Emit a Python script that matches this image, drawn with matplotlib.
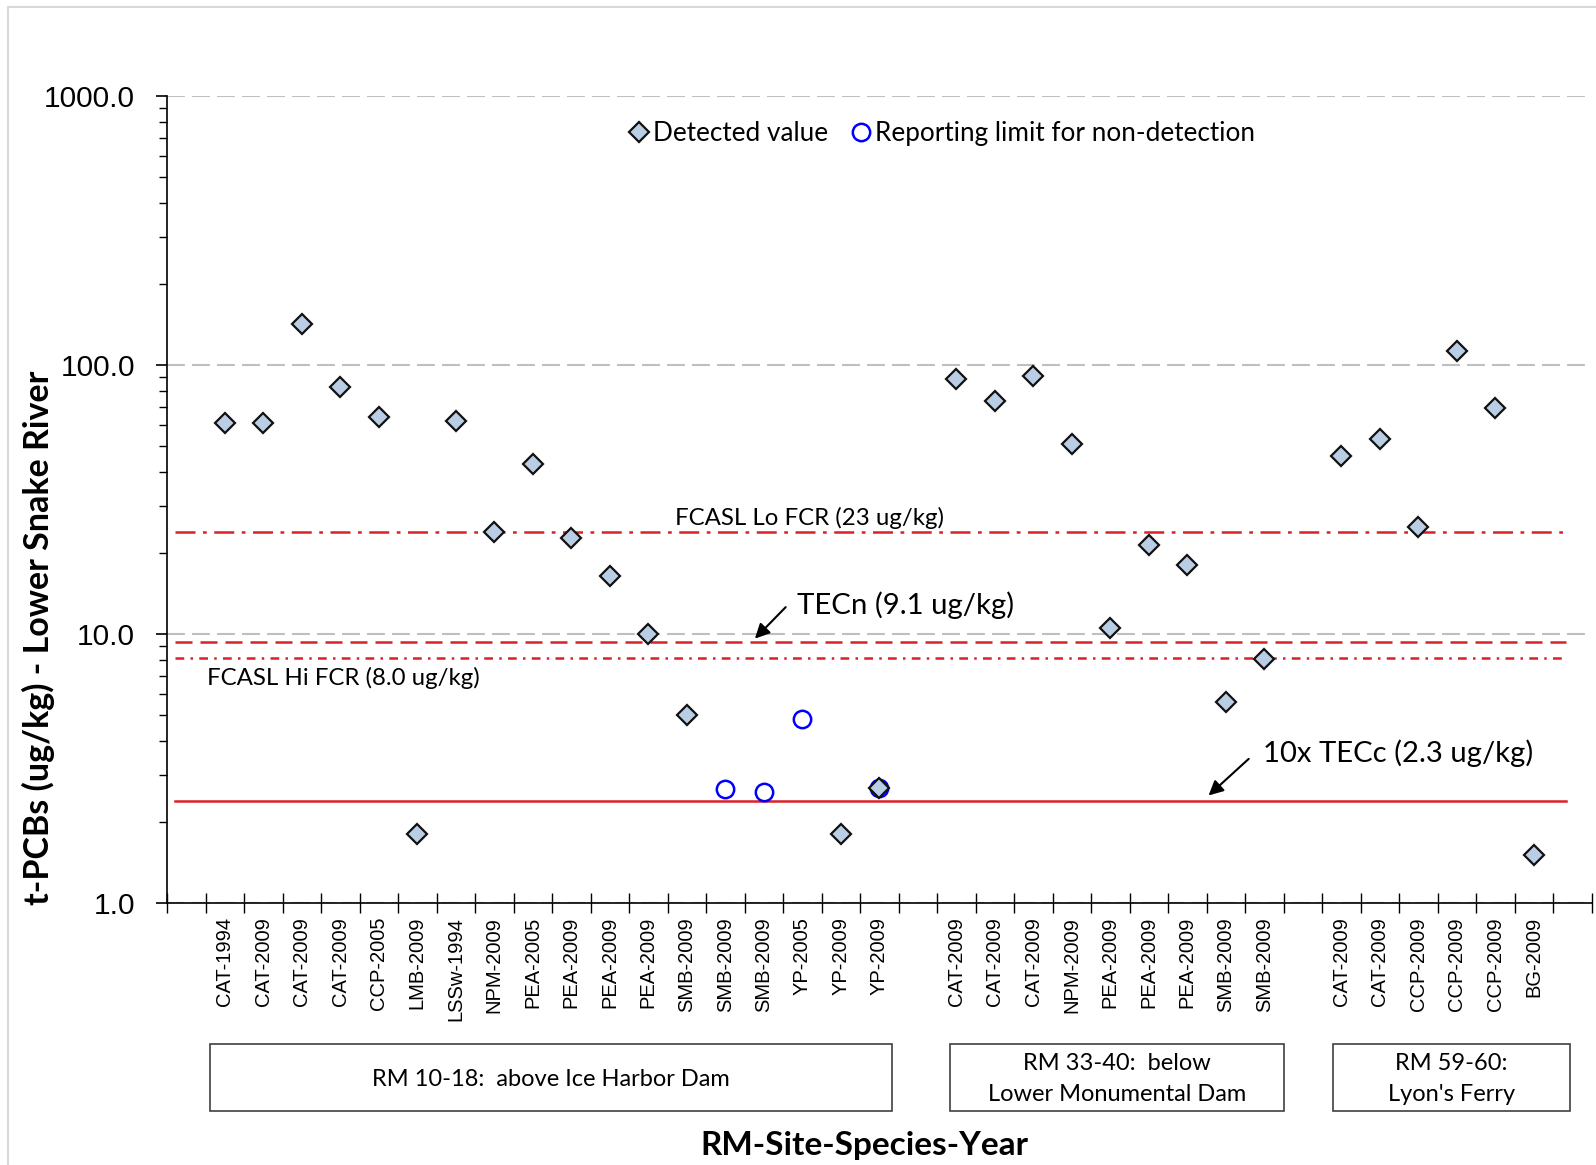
import numpy as np
import matplotlib
matplotlib.use("Agg")
import matplotlib.pyplot as plt
from matplotlib.lines import Line2D
from matplotlib.patches import Rectangle

# ---------------- data ----------------
categories = ['',
              'CAT-1994', 'CAT-2009', 'CAT-2009', 'CAT-2009', 'CCP-2005', 'LMB-2009',
              'LSSw-1994', 'NPM-2009', 'PEA-2005', 'PEA-2009', 'PEA-2009', 'PEA-2009',
              'SMB-2009', 'SMB-2009', 'SMB-2009', 'YP-2005', 'YP-2009', 'YP-2009',
              '',
              'CAT-2009', 'CAT-2009', 'CAT-2009', 'NPM-2009', 'PEA-2009', 'PEA-2009',
              'PEA-2009', 'SMB-2009', 'SMB-2009',
              '',
              'CAT-2009', 'CAT-2009', 'CCP-2009', 'CCP-2009', 'CCP-2009', 'BG-2009',
              '']
nan = np.nan
detected = [nan,
            61, 61, 142, 83, 64, 1.81,
            62, 24, 43, 22.7, 16.4, 10.0,
            5.0, nan, nan, nan, 1.81, 2.68,
            nan,
            88.5, 73.7, 91, 51, 10.5, 21.4,
            18.1, 5.58, 8.1,
            nan,
            46, 53, 25, 113, 69, 1.51,
            nan]
nondetect = [nan,
             nan, nan, nan, nan, nan, nan,
             nan, nan, nan, nan, nan, nan,
             nan, 2.66, 2.59, 4.85, nan, 2.68,
             nan,
             nan, nan, nan, nan, nan, nan,
             nan, nan, nan,
             nan,
             nan, nan, nan, nan, nan, nan,
             nan]
group_names = ['RM 10-18:  above Ice Harbor Dam',
               'RM 33-40:  below\nLower Monumental Dam',
               'RM 59-60:\nLyon\'s Ferry']
ref_values = {'lo_fcr': 24.0, 'tecn': 9.3, 'hi_fcr': 8.15, 'tecc': 2.4}
ref_labels = {'lo_fcr': 'FCASL Lo FCR (23 ug/kg)', 'tecn': 'TECn (9.1 ug/kg)',
              'hi_fcr': 'FCASL Hi FCR (8.0 ug/kg)', 'tecc': '10x TECc (2.3 ug/kg)'}
yticks = [1, 10, 100, 1000]
ytick_labels = ['1.0', '10.0', '100.0', '1000.0']

# ---------------- figure ----------------
W, H = 1596, 1165
fig = plt.figure(figsize=(W / 100, H / 100), dpi=100)
def fx(px): return px / W
def fy(py): return 1 - py / H

ax = fig.add_axes([fx(167), fy(903), fx(1591.5) - fx(167), fy(96) - fy(903)])
x = np.arange(len(categories))
ax.set_yscale('log')
ax.set_ylim(1, 1000)
ax.set_xlim(-0.5, len(categories) - 0.5)

CAL = 'Lato'
ARI = 'Liberation Sans'
RED = '#D92128'

# gridlines
ax.yaxis.grid(True, which='major', color='#BFBFBF', linestyle=(0, (8.6, 3.4)), lw=1.5, zorder=0)
ax.set_axisbelow(True)

# reference lines
xr = [-0.3, 35.85]
ax.plot(xr, [ref_values['lo_fcr']] * 2, color=RED, lw=1.8, linestyle=(0, (8, 3, 1.5, 3)), zorder=2)
ax.plot(xr, [ref_values['tecn']] * 2, color=RED, lw=1.8, linestyle=(0, (6.8, 3.2)), zorder=2)
ax.plot(xr, [ref_values['hi_fcr']] * 2, color=RED, lw=1.8, linestyle=(0, (3.5, 2.5, 1, 2.5)), zorder=2)
ax.plot(xr, [ref_values['tecc']] * 2, color=RED, lw=1.8, linestyle='-', zorder=2)

# points
ax.plot(x, nondetect, linestyle='none', marker='o', ms=12.5, mfc='none', mec='#0000FF',
        mew=1.8, zorder=3, label='Reporting limit for non-detection')
ax.plot(x, detected, linestyle='none', marker='D', ms=10, mfc='#B9CDE5', mec='#111111',
        mew=1.6, zorder=4, label='Detected value')

# spines
for s in ['top', 'right']:
    ax.spines[s].set_visible(False)
for s in ['left', 'bottom']:
    ax.spines[s].set_color('black')
    ax.spines[s].set_linewidth(1.2)

# y ticks
ax.set_yticks(yticks)
ax.set_yticklabels(ytick_labels, fontfamily=ARI, fontsize=21.5)
ax.yaxis.set_minor_locator(matplotlib.ticker.LogLocator(base=10, subs=np.arange(2, 10)))
ax.yaxis.set_minor_formatter(matplotlib.ticker.NullFormatter())
ax.tick_params(axis='y', which='major', direction='out', length=8, width=1.2, pad=15)
ax.tick_params(axis='y', which='minor', direction='out', length=6, width=1.0)

# x ticks: major at boundaries, labels at centers (minor)
ax.set_xticks(np.arange(-0.5, len(categories), 1.0))
ax.set_xticklabels([])
ax.set_xticks(x, minor=True)
ax.set_xticklabels(categories, minor=True, rotation=90, fontfamily=ARI, fontsize=14.5)
ax.tick_params(axis='x', which='major', direction='inout', length=14, width=1.0)
ax.tick_params(axis='x', which='minor', length=0, pad=10)

# legend
h1 = Line2D([], [], linestyle='none', marker='D', ms=10, mfc='#B9CDE5', mec='#111111', mew=1.6)
h2 = Line2D([], [], linestyle='none', marker='o', ms=12.5, mfc='none', mec='#0000FF', mew=1.8)
fig.legend([h1, h2], ['Detected value', 'Reporting limit for non-detection'],
           loc='center', bbox_to_anchor=(fx(942), fy(134)), ncol=2, frameon=False,
           handlelength=0.8, handletextpad=0.15, columnspacing=0.85,
           prop={'family': CAL, 'size': 18.8})

# annotations
ax.text(16.2, 27, ref_labels['lo_fcr'], ha='center', va='center', fontfamily=CAL, fontsize=17.3)
ax.text(15.86, 12.8, ref_labels['tecn'], ha='left', va='center', fontfamily=CAL, fontsize=21.2)
ax.annotate('', xy=(14.72, 9.45), xytext=(15.62, 12.8),
            arrowprops=dict(arrowstyle='-|>', color='black', lw=1.5, mutation_scale=22))
ax.text(0.53, 6.85, ref_labels['hi_fcr'], ha='left', va='center', fontfamily=CAL, fontsize=17.3)
ax.text(27.96, 3.61, ref_labels['tecc'], ha='left', va='center', fontfamily=CAL, fontsize=21.1)
ax.annotate('', xy=(26.5, 2.47), xytext=(27.65, 3.49),
            arrowprops=dict(arrowstyle='-|>', color='black', lw=1.5, mutation_scale=22))

# group boxes
boxes = [(210, 892), (950, 1284), (1333, 1570)]
for (x0, x1), name in zip(boxes, group_names):
    r = Rectangle((fx(x0), fy(1111)), fx(x1) - fx(x0), fy(1044) - fy(1111),
                  transform=fig.transFigure, fill=False, edgecolor='#404040', lw=1.2)
    fig.add_artist(r)
    fig.text(fx((x0 + x1) / 2), fy(1079), name, ha='center', va='center',
             fontfamily=CAL, fontsize=17, linespacing=1.55)

# axis titles
fig.text(fx(864), fy(1145), 'RM-Site-Species-Year', ha='center', va='center',
         fontfamily=CAL, fontweight='bold', fontsize=24)
fig.text(fx(38), fy(638), 't-PCBs (ug/kg) - Lower Snake River', ha='center', va='center',
         rotation=90, fontfamily=CAL, fontweight='bold', fontsize=24.5)

# outer frame
fig.add_artist(Line2D([fx(8), fx(8)], [0, fy(7)], color='#D9D9D9', lw=1.5, transform=fig.transFigure))
fig.add_artist(Line2D([fx(8), 1], [fy(7), fy(7)], color='#D9D9D9', lw=1.5, transform=fig.transFigure))

fig.savefig('out.png', dpi=100)
